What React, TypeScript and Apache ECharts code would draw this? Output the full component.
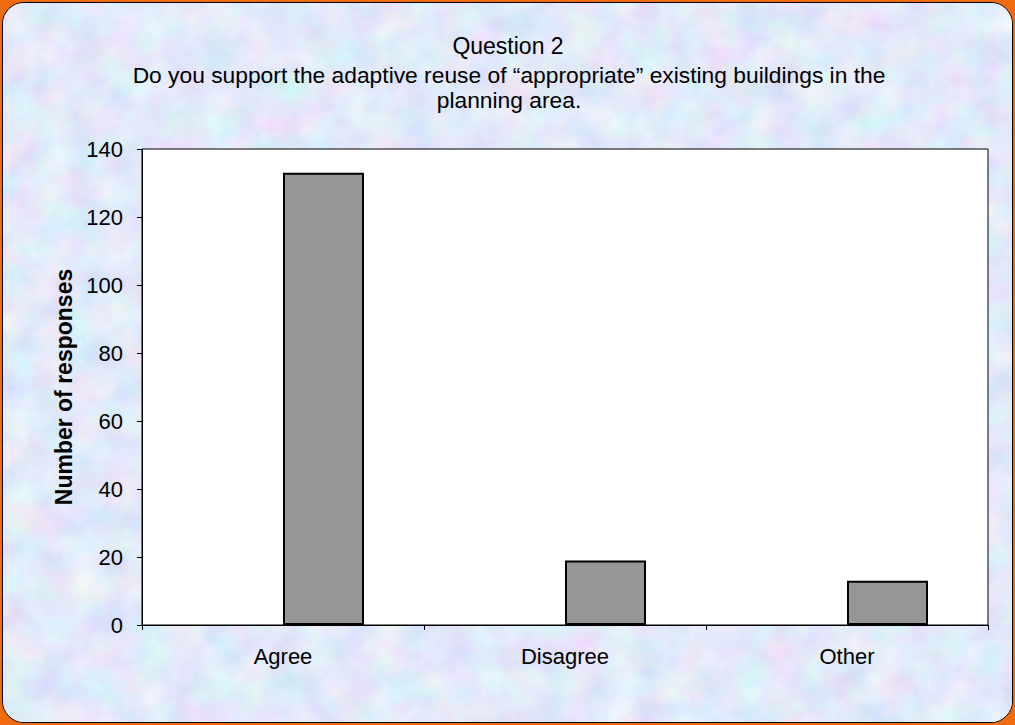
import React, { useEffect, useRef } from "react";
import * as echarts from "echarts";

const categories = ["Agree", "Disagree", "Other"];
const responses = [133, 19, 13];
const emptySeries = categories.map(() => null);
const yTicks = { min: 0, max: 140, interval: 20 };
const titleLine1 = "Question 2";
const titleLine2 =
  "Do you support the adaptive reuse of \u201cappropriate\u201d existing buildings in the\nplanning area.";
const yAxisName = "Number of responses";

const FONT = "'Liberation Sans', Arial, sans-serif";

export default function App() {
  const ref = useRef<HTMLDivElement>(null);

  useEffect(() => {
    if (!ref.current) return;
    const chart = echarts.init(ref.current, undefined, { renderer: "svg" });
    chart.setOption({
      animation: false,
      backgroundColor: "transparent",
      textStyle: { fontFamily: FONT },
      graphic: [
        {
          type: "text",
          x: 508,
          y: 45.5,
          style: {
            text: titleLine1,
            align: "center",
            verticalAlign: "middle",
            fontSize: 23,
            fontFamily: FONT,
            fill: "#000",
          },
        },
        {
          type: "text",
          x: 509,
          y: 62,
          style: {
            text: titleLine2,
            align: "center",
            verticalAlign: "top",
            fontSize: 22.8,
            lineHeight: 25,
            fontFamily: FONT,
            fill: "#000",
          },
        },
      ],
      grid: {
        left: 142,
        top: 149,
        width: 846,
        height: 476,
        show: true,
        backgroundColor: "#ffffff",
        borderColor: "#000000",
        borderWidth: 1,
      },
      xAxis: {
        type: "category",
        data: categories,
        axisLine: { lineStyle: { color: "#000", width: 1 } },
        axisTick: { show: true, inside: false, length: 5, lineStyle: { color: "#000" } },
        axisLabel: { color: "#000", fontSize: 22, fontFamily: FONT, margin: 20 },
        splitLine: { show: false },
      },
      yAxis: {
        type: "value",
        min: yTicks.min,
        max: yTicks.max,
        interval: yTicks.interval,
        name: yAxisName,
        nameLocation: "middle",
        nameGap: 64,
        nameTextStyle: { color: "#000", fontSize: 23, fontWeight: "bold", fontFamily: FONT },
        axisLine: { show: true, lineStyle: { color: "#000", width: 1 } },
        axisTick: { show: true, inside: false, length: 5, lineStyle: { color: "#000" } },
        axisLabel: { color: "#000", fontSize: 22, fontFamily: FONT, margin: 19 },
        splitLine: { show: false },
      },
      series: [
        {
          type: "bar",
          name: "blank",
          data: emptySeries,
          barWidth: 81,
          barGap: "0%",
          itemStyle: { color: "#969696", borderColor: "#000", borderWidth: 2 },
        },
        {
          type: "bar",
          name: "Responses",
          data: responses,
          barWidth: 81,
          barGap: "0%",
          itemStyle: { color: "#969696", borderColor: "#000", borderWidth: 2 },
        },
      ],
    });
    return () => chart.dispose();
  }, []);

  return (
    <div
      style={{
        position: "absolute",
        left: 0,
        top: 0,
        width: 1015,
        height: 725,
        background: "#f06a10",
        overflow: "hidden",
      }}
    >
      <div
        style={{
          position: "absolute",
          left: 2,
          top: 2,
          width: 1009,
          height: 719,
          border: "1px solid #000",
          borderRadius: 22,
          overflow: "hidden",
          background: "#c6d0f2",
        }}
      >
        <svg width="1009" height="719" style={{ display: "block" }}>
          <filter id="tex" x="0" y="0" width="100%" height="100%">
            <feTurbulence type="fractalNoise" baseFrequency="0.03" numOctaves="5" seed="11" />
            <feColorMatrix
              type="matrix"
              values="0.36 0 0 0 0.58  0 0.32 0 0 0.66  0 0 0.16 0 0.87  0 0 0 0 1"
            />
          </filter>
          <rect width="1009" height="719" filter="url(#tex)" />
        </svg>
      </div>
      <div ref={ref} style={{ position: "absolute", left: 0, top: 0, width: 1015, height: 725 }} />
    </div>
  );
}
